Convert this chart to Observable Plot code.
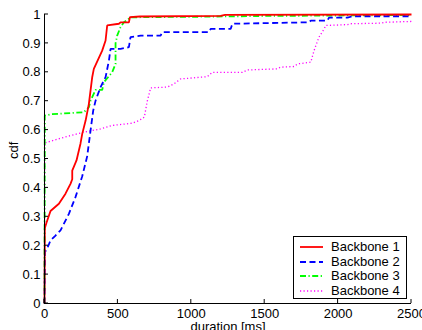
<!DOCTYPE html>
<html>
<head>
<meta charset="utf-8">
<script src="https://cdn.jsdelivr.net/npm/d3@7"></script>
<script src="https://cdn.jsdelivr.net/npm/@observablehq/plot@0.6"></script>
<style>
  body { margin: 0; background: #fff; }
  #wrap { position: relative; width: 422px; height: 330px; overflow: hidden; font-family: Arial, "Liberation Sans", sans-serif; }
  #legend { position: absolute; left: 293px; top: 236px; width: 114px; height: 63px; box-sizing: border-box; border: 1px solid #000; background: #fff; font-size: 13px; }
  .row { position: absolute; left: 0; height: 14px; width: 112px; }
  .row svg { position: absolute; left: 6px; top: 0; }
  .row span { position: absolute; left: 37px; top: 0; line-height: 14px; white-space: nowrap; }
</style>
</head>
<body>
<div id="wrap"></div>
<script>
// Series names and styles
const names = ["Backbone 1", "Backbone 2", "Backbone 3", "Backbone 4"];
const colors = ["#ff0000", "#0000ff", "#00ff00", "#ff00ff"];
const dashes = [null, "6,3.5", "6,2.5,1.2,2.5", "1.2,2.3"];
const widths = [1.8, 1.8, 1.8, 1.3];

// Backbone 1 (duration ms, cdf)
const b1x = [0, 2, 14, 41, 98, 143, 177, 189, 189, 218, 245, 257, 280, 302, 325, 336, 393, 416, 427, 507, 518, 575, 582, 650, 1200, 1230, 2500];
const b1y = [0, 0.26, 0.28, 0.32, 0.345, 0.38, 0.414, 0.43, 0.46, 0.495, 0.553, 0.587, 0.633, 0.69, 0.783, 0.812, 0.875, 0.91, 0.962, 0.968, 0.973, 0.973, 0.991, 0.993, 0.995, 0.999, 1.0];
// Backbone 2
const b2x = [0, 3, 18, 41, 75, 109, 166, 211, 257, 291, 314, 332, 348, 382, 416, 439, 450, 518, 575, 586, 655, 791, 802, 1120, 1132, 1268, 1280, 1802, 1814, 1927, 1938, 2064, 2098, 2500];
const b2y = [0, 0.178, 0.19, 0.218, 0.235, 0.253, 0.31, 0.368, 0.44, 0.51, 0.6, 0.668, 0.702, 0.749, 0.783, 0.841, 0.881, 0.881, 0.887, 0.922, 0.927, 0.927, 0.939, 0.939, 0.95, 0.95, 0.968, 0.973, 0.979, 0.979, 0.989, 0.989, 0.994, 0.994];
// Backbone 3
const b3x = [0, 2, 45, 268, 302, 314, 348, 393, 405, 461, 484, 484, 495, 518, 541, 564, 586, 700, 1000, 1500, 2500];
const b3y = [0, 0.65, 0.655, 0.662, 0.679, 0.702, 0.739, 0.739, 0.766, 0.8, 0.829, 0.9, 0.927, 0.956, 0.973, 0.981, 0.99, 0.991, 0.992, 0.995, 0.998];
// Backbone 4
const b4x = [0, 2, 18, 132, 268, 382, 461, 598, 643, 680, 700, 723, 837, 882, 927, 1109, 1143, 1348, 1382, 1586, 1609, 1700, 1723, 1814, 1836, 1870, 1905, 1916, 2064, 2086, 2291, 2314, 2500];
const b4y = [0, 0.555, 0.558, 0.575, 0.593, 0.604, 0.616, 0.624, 0.633, 0.645, 0.7, 0.746, 0.749, 0.76, 0.777, 0.785, 0.8, 0.8, 0.808, 0.812, 0.818, 0.82, 0.829, 0.835, 0.875, 0.922, 0.95, 0.962, 0.965, 0.968, 0.97, 0.973, 0.976];

const xTicks = [0, 500, 1000, 1500, 2000, 2500];
const yTicks = [0, 0.1, 0.2, 0.3, 0.4, 0.5, 0.6, 0.7, 0.8, 0.9, 1];
const xLabel = "duration [ms]";
const yLabel = "cdf";

const series = [[b1x, b1y], [b2x, b2y], [b3x, b3y], [b4x, b4y]].map(([xs, ys], i) =>
  xs.map((x, j) => ({x, y: ys[j], s: names[i]})));

const fmt = d => String(+d.toFixed(1));

const lineMarks = series.map((data, i) => Plot.line(data, {
  x: "x", y: "y", stroke: colors[i], strokeWidth: widths[i],
  strokeDasharray: dashes[i], strokeLinejoin: "miter", strokeLinecap: "butt"
}));

const chart = Plot.plot({
  width: 422, height: 330,
  marginLeft: 44, marginRight: 11, marginTop: 14, marginBottom: 27,
  style: {fontFamily: "Arial, 'Liberation Sans', sans-serif", fontSize: "13px", color: "#000", background: "#fff"},
  x: {domain: [0, 2500]},
  y: {domain: [0, 1]},
  marks: [
    ...lineMarks.slice().reverse(),
    Plot.ruleX([0], {stroke: "#000", strokeWidth: 1}),
    Plot.ruleY([0], {stroke: "#000", strokeWidth: 1}),
    Plot.axisY(yTicks, {tickSize: 0, tickPadding: 4, tickFormat: fmt, fontSize: 13, label: null}),
    Plot.axisX(xTicks, {tickSize: 0, tickPadding: 5, tickFormat: d => String(d), fontSize: 13, label: null}),
    Plot.text([xLabel], {frameAnchor: "bottom", dy: 18.5, lineAnchor: "top", text: d => d, fontSize: 13}),
    Plot.text([yLabel], {frameAnchor: "left", dx: -27, rotate: -90, lineAnchor: "bottom", text: d => d, fontSize: 13})
  ]
});

document.getElementById("wrap").appendChild(chart);

// inward ticks drawn with d3 on the Plot's own scales
const svg = d3.select(chart);
const sx = chart.scale("x"), sy = chart.scale("y");
const x0 = sx.apply(0), y0 = sy.apply(0);
svg.selectAll("line.yt").data(yTicks).join("line").attr("class", "yt")
  .attr("x1", x0).attr("x2", x0 + 4).attr("y1", d => sy.apply(d)).attr("y2", d => sy.apply(d)).attr("stroke", "#000");
svg.selectAll("line.xt").data(xTicks).join("line").attr("class", "xt")
  .attr("y1", y0).attr("y2", y0 - 4).attr("x1", d => sx.apply(d)).attr("x2", d => sx.apply(d)).attr("stroke", "#000");

// legend
const legend = document.createElement("div");
legend.id = "legend";
names.forEach((n, i) => {
  const row = document.createElement("div");
  row.className = "row";
  row.style.top = (3 + i * 14.6) + "px";
  row.innerHTML = `<svg width="24" height="14"><line x1="0" x2="23" y1="7" y2="7" stroke="${colors[i]}" stroke-width="${widths[i]}" ${dashes[i] ? `stroke-dasharray="${dashes[i]}"` : ""}/></svg><span>${n}</span>`;
  legend.appendChild(row);
});
document.getElementById("wrap").appendChild(legend);
</script>
</body>
</html>
